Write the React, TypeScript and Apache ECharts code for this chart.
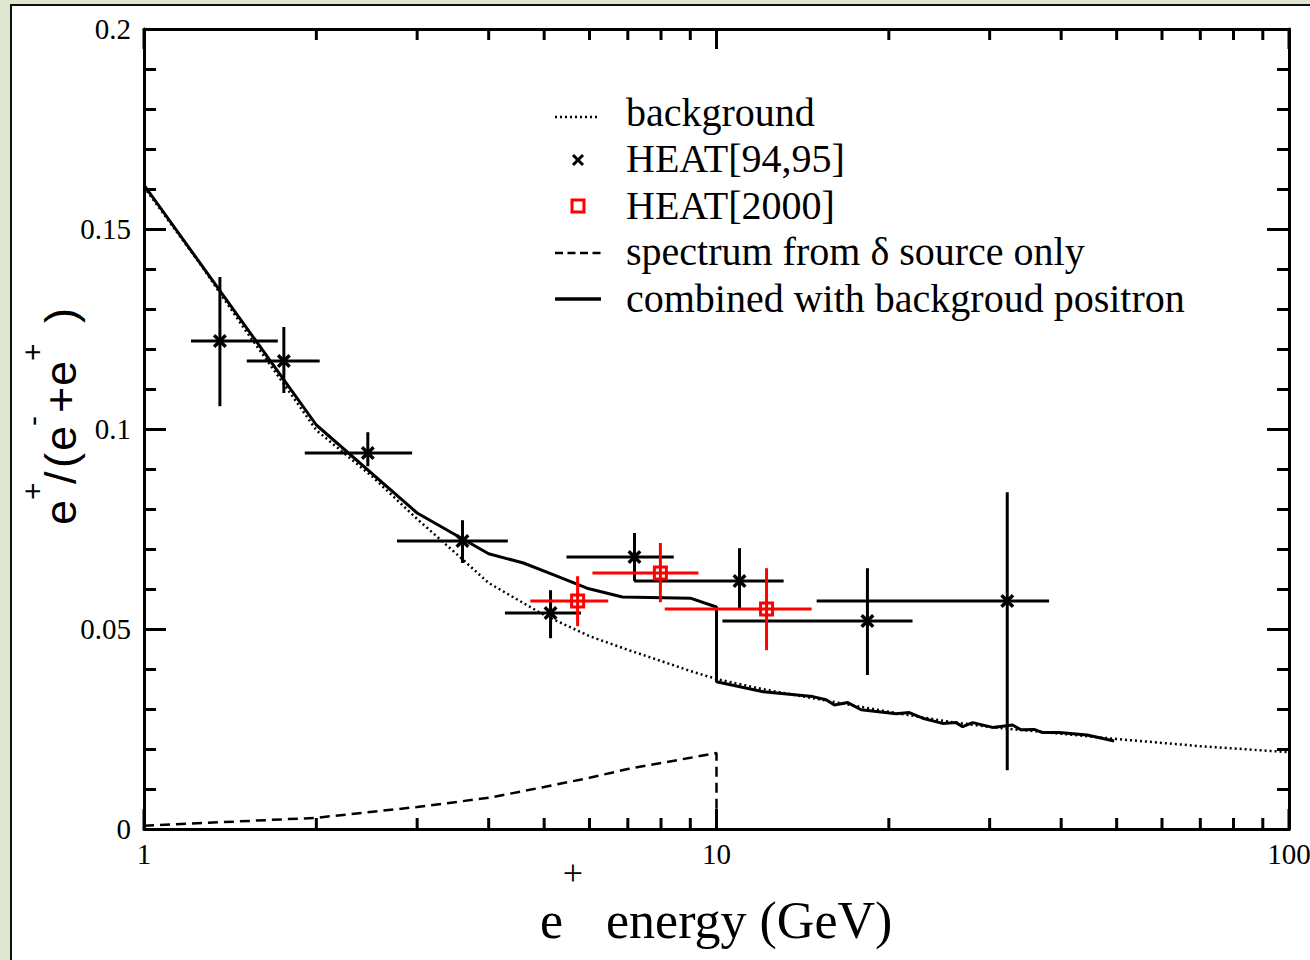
import React, { useEffect, useRef } from "react";
import * as echarts from "echarts";

// ---- data ----
const bgX = [1, 1.25, 1.5, 1.75, 2, 2.5, 3, 3.5, 4, 5, 6, 7, 8, 9, 10, 12, 15, 20, 25, 30, 40, 50, 70, 100];
const bgY = [0.1605, 0.1415, 0.1249, 0.1115, 0.0997, 0.0882, 0.0775, 0.069, 0.0615, 0.0535, 0.0482, 0.0448, 0.042, 0.0395, 0.0375, 0.035, 0.0325, 0.0293, 0.027, 0.0255, 0.0238, 0.0225, 0.0207, 0.0192];

const combX = [1, 2, 3, 4, 4.6, 5.25, 5.94, 6.85, 9.0, 10, 10, 12.07, 14.73, 15.54, 16.07, 16.95, 17.89, 20.59, 21.72, 22.91, 24.82, 26.2, 26.91, 28.02, 30.36, 32.89, 34.02, 35.89, 37.11, 39.69, 44.4, 49.5];
const combY = [0.161, 0.101, 0.079, 0.0688, 0.0665, 0.0633, 0.0602, 0.058, 0.0577, 0.0555, 0.0368, 0.0343, 0.0331, 0.0323, 0.031, 0.0316, 0.0298, 0.0288, 0.0291, 0.0277, 0.0264, 0.0266, 0.0256, 0.0266, 0.0254, 0.026, 0.0248, 0.0249, 0.0241, 0.0241, 0.0235, 0.022];

const srcX = [1, 2, 3, 4, 5, 6, 7, 8, 9, 10, 10];
const srcY = [0.0008, 0.0028, 0.0055, 0.0078, 0.0105, 0.0128, 0.015, 0.0165, 0.0178, 0.019, 0];

const h95X = [1.357, 1.755, 2.46, 3.6, 5.13, 7.19, 10.97, 18.35, 32.2];
const h95Y = [0.122, 0.117, 0.094, 0.072, 0.054, 0.068, 0.062, 0.052, 0.057];
const h95XLo = [1.208, 1.512, 1.909, 2.766, 4.27, 5.47, 7.18, 10.24, 14.96];
const h95XHi = [1.713, 2.027, 2.94, 4.32, 5.8, 8.42, 13.1, 22.0, 38.1];
const h95YLo = [0.1057, 0.109, 0.0907, 0.0665, 0.0477, 0.062, 0.0552, 0.0385, 0.0147];
const h95YHi = [0.138, 0.1255, 0.0992, 0.0772, 0.0597, 0.074, 0.0702, 0.0652, 0.0842];

const h00X = [5.72, 7.98, 12.23];
const h00Y = [0.057, 0.064, 0.055];
const h00XLo = [4.73, 6.07, 8.12];
const h00XHi = [6.47, 9.3, 14.66];
const h00YLo = [0.0507, 0.0567, 0.0447];
const h00YHi = [0.0632, 0.0715, 0.0652];

const xMajorTicks = [1, 10, 100];
const xMinorTicks = [2, 3, 4, 5, 6, 7, 8, 9, 20, 30, 40, 50, 60, 70, 80, 90];

const legendNames = [
  "background",
  "HEAT[94,95]",
  "HEAT[2000]",
  "spectrum from \u03b4 source only",
  "combined with backgroud positron",
];

const SERIF = "'Liberation Serif', 'Times New Roman', serif";
const SANS = "'Liberation Sans', Arial, sans-serif";
const CROSS = "path://M0,1.7L1.7,0L5,3.3L8.3,0L10,1.7L6.7,5L10,8.3L8.3,10L5,6.7L1.7,10L0,8.3L3.3,5Z";

function pairs(xs: number[], ys: number[]) {
  return xs.map((x, i) => [x, ys[i]]);
}

function errData(xs: number[], ys: number[], xlo: number[], xhi: number[], ylo: number[], yhi: number[]) {
  return xs.map((x, i) => [x, ys[i], xlo[i], xhi[i], ylo[i], yhi[i]]);
}

function errRender(color: string) {
  return (params: any, api: any) => {
    const x = api.value(0);
    const y = api.value(1);
    const l = api.coord([api.value(2), y]);
    const r = api.coord([api.value(3), y]);
    const b = api.coord([x, api.value(4)]);
    const t = api.coord([x, api.value(5)]);
    const st = { stroke: color, lineWidth: 3 };
    return {
      type: "group",
      children: [
        { type: "line", shape: { x1: l[0], y1: l[1], x2: r[0], y2: r[1] }, style: st },
        { type: "line", shape: { x1: b[0], y1: b[1], x2: t[0], y2: t[1] }, style: st },
      ],
    };
  };
}

function tickRender(params: any, api: any) {
  const x = api.value(0);
  const len = api.value(2);
  const b = api.coord([x, 0]);
  const t = api.coord([x, 0.2]);
  const st = { stroke: "#000", lineWidth: 3 };
  return {
    type: "group",
    children: [
      { type: "line", shape: { x1: b[0], y1: b[1], x2: b[0], y2: b[1] - len }, style: st },
      { type: "line", shape: { x1: t[0], y1: t[1], x2: t[0], y2: t[1] + len }, style: st },
    ],
  };
}

// legend layout helpers
const LEG_TEXT_X = 626;
const LEG_TEXT_Y = [112, 158.5, 205, 251.5, 298];
const LEG_ICON_Y = [117, 160, 206, 253, 299];

function legendGraphics() {
  const items: any[] = [];
  items.push({
    type: "line",
    shape: { x1: 555, y1: LEG_ICON_Y[0], x2: 600, y2: LEG_ICON_Y[0] },
    style: { stroke: "#000", lineWidth: 2.5, lineDash: [2, 3] },
  });
  const cy = LEG_ICON_Y[1];
  items.push({ type: "line", shape: { x1: 573, y1: cy - 5, x2: 583, y2: cy + 5 }, style: { stroke: "#000", lineWidth: 3 } });
  items.push({ type: "line", shape: { x1: 573, y1: cy + 5, x2: 583, y2: cy - 5 }, style: { stroke: "#000", lineWidth: 3 } });
  items.push({
    type: "rect",
    shape: { x: 572, y: LEG_ICON_Y[2] - 6, width: 12, height: 12 },
    style: { stroke: "#ff0000", lineWidth: 3, fill: "none" },
  });
  items.push({
    type: "line",
    shape: { x1: 555, y1: LEG_ICON_Y[3], x2: 601, y2: LEG_ICON_Y[3] },
    style: { stroke: "#000", lineWidth: 2.5, lineDash: [8, 4.5] },
  });
  items.push({
    type: "line",
    shape: { x1: 555, y1: LEG_ICON_Y[4], x2: 601, y2: LEG_ICON_Y[4] },
    style: { stroke: "#000", lineWidth: 3.5 },
  });
  legendNames.forEach((name, i) => {
    items.push({
      type: "text",
      x: LEG_TEXT_X,
      y: LEG_TEXT_Y[i],
      style: { text: name, font: `40px ${SERIF}`, fill: "#000", textAlign: "left", textVerticalAlign: "middle" },
    });
  });
  return items;
}

export default function App() {
  const ref = useRef<HTMLDivElement>(null);
  useEffect(() => {
    if (!ref.current) return;
    const chart = echarts.init(ref.current, null, { renderer: "svg" });
    const yAxisBase = {
      type: "value",
      min: 0,
      max: 0.2,
      interval: 0.05,
      axisLine: { show: true, lineStyle: { color: "#000", width: 3 } },
      axisTick: { show: true, inside: true, length: 22, lineStyle: { color: "#000", width: 3 } },
      minorTick: { show: true, splitNumber: 5, length: 12, lineStyle: { color: "#000", width: 3 } },
      splitLine: { show: false },
      minorSplitLine: { show: false },
    };
    const xAxisBase = {
      type: "log",
      logBase: 10,
      min: 1,
      max: 100,
      axisLine: { show: true, onZero: false, lineStyle: { color: "#000", width: 3 } },
      axisTick: { show: false },
      splitLine: { show: false },
    };
    const tickData = [
      ...xMajorTicks.map((v) => [v, 0, 20]),
      ...xMinorTicks.map((v) => [v, 0, 11]),
    ];
    const option: any = {
      animation: false,
      grid: { left: 144, top: 29, width: 1145, height: 800, outerBoundsMode: "none", containLabel: false },
      xAxis: [
        {
          ...xAxisBase,
          position: "bottom",
          axisLabel: { color: "#000", fontFamily: SERIF, fontSize: 29, margin: 10 },
        },
        { ...xAxisBase, position: "top", axisLabel: { show: false } },
      ],
      yAxis: [
        {
          ...yAxisBase,
          position: "left",
          axisLabel: {
            color: "#000",
            fontFamily: SERIF,
            fontSize: 29,
            margin: 13,
            formatter: (v: number) => (v === 0 ? "0" : String(parseFloat(v.toFixed(2)))),
          },
        },
        { ...yAxisBase, position: "right", axisLabel: { show: false } },
      ],
      series: [
        {
          name: legendNames[0],
          type: "line",
          data: pairs(bgX, bgY),
          symbol: "none",
          lineStyle: { color: "#000", width: 2.5, type: [2, 3] },
          itemStyle: { color: "#000" },
          z: 2,
        },
        {
          name: legendNames[3],
          type: "line",
          data: pairs(srcX, srcY),
          symbol: "none",
          lineStyle: { color: "#000", width: 2.5, type: [10, 6] },
          itemStyle: { color: "#000" },
          z: 2,
        },
        {
          name: legendNames[4],
          type: "line",
          data: pairs(combX, combY),
          symbol: "none",
          lineStyle: { color: "#000", width: 3 },
          itemStyle: { color: "#000" },
          z: 3,
        },
        {
          name: "xticks",
          type: "custom",
          data: tickData,
          encode: { x: 0, y: 1 },
          renderItem: tickRender,
          silent: true,
          z: 5,
        },
        {
          name: "err95",
          type: "custom",
          data: errData(h95X, h95Y, h95XLo, h95XHi, h95YLo, h95YHi),
          encode: { x: 0, y: 1 },
          renderItem: errRender("#000"),
          z: 4,
        },
        {
          name: "err00",
          type: "custom",
          data: errData(h00X, h00Y, h00XLo, h00XHi, h00YLo, h00YHi),
          encode: { x: 0, y: 1 },
          renderItem: errRender("#ff0000"),
          z: 4,
        },
        {
          name: legendNames[1],
          type: "scatter",
          data: pairs(h95X, h95Y),
          symbol: CROSS,
          symbolSize: 14,
          symbolKeepAspect: true,
          itemStyle: { color: "#000", opacity: 1 },
          z: 6,
        },
        {
          name: legendNames[2],
          type: "scatter",
          data: pairs(h00X, h00Y),
          symbol: "rect",
          symbolSize: 12,
          symbolKeepAspect: true,
          itemStyle: { color: "rgba(255,255,255,0)", borderColor: "#ff0000", borderWidth: 3, opacity: 1 },
          z: 6,
        },
      ],
      graphic: [
        ...legendGraphics(),
        // x axis title
        {
          type: "text",
          x: 540,
          y: 920,
          style: { text: "e", font: `52px ${SERIF}`, fill: "#000", textAlign: "left", textVerticalAlign: "middle" },
        },
        {
          type: "text",
          x: 573,
          y: 873,
          style: { text: "+", font: `36px ${SERIF}`, fill: "#000", textAlign: "center", textVerticalAlign: "middle" },
        },
        {
          type: "text",
          x: 606,
          y: 920,
          style: { text: "energy (GeV)", font: `52px ${SERIF}`, fill: "#000", textAlign: "left", textVerticalAlign: "middle" },
        },
        // y axis title (rotated)
        {
          type: "group",
          x: 0,
          y: 527,
          rotation: Math.PI / 2,
          children: [
            { type: "text", x: 2, y: 60, style: { text: "e", font: `45px ${SANS}`, fill: "#000", textVerticalAlign: "middle" } },
            { type: "text", x: 27, y: 32, style: { text: "+", font: `30px ${SANS}`, fill: "#000", textVerticalAlign: "middle" } },
            { type: "text", x: 43, y: 60, style: { text: "/", font: `45px ${SANS}`, fill: "#000", textVerticalAlign: "middle" } },
            { type: "text", x: 59, y: 60, style: { text: "(", font: `45px ${SANS}`, fill: "#000", textVerticalAlign: "middle" } },
            { type: "text", x: 76, y: 60, style: { text: "e", font: `45px ${SANS}`, fill: "#000", textVerticalAlign: "middle" } },
            { type: "text", x: 101, y: 32, style: { text: "-", font: `30px ${SANS}`, fill: "#000", textVerticalAlign: "middle" } },
            { type: "text", x: 114, y: 60, style: { text: "+", font: `45px ${SANS}`, fill: "#000", textVerticalAlign: "middle" } },
            { type: "text", x: 141, y: 60, style: { text: "e", font: `45px ${SANS}`, fill: "#000", textVerticalAlign: "middle" } },
            { type: "text", x: 166, y: 32, style: { text: "+", font: `30px ${SANS}`, fill: "#000", textVerticalAlign: "middle" } },
            { type: "text", x: 204, y: 60, style: { text: ")", font: `45px ${SANS}`, fill: "#000", textVerticalAlign: "middle" } },
          ],
        },
      ],
    };
    chart.setOption(option);
    return () => chart.dispose();
  }, []);

  return (
    <div style={{ position: "fixed", left: 0, top: 0, width: 1310, height: 960, background: "#dfe6cf", overflow: "hidden" }}>
      <div
        style={{
          position: "absolute",
          left: 10,
          top: 4,
          width: 1320,
          height: 980,
          background: "#ffffff",
          borderLeft: "2.5px solid #111",
          borderTop: "2.5px solid #111",
        }}
      />
      <div ref={ref} style={{ position: "absolute", left: 0, top: 0, width: 1310, height: 960 }} />
    </div>
  );
}
